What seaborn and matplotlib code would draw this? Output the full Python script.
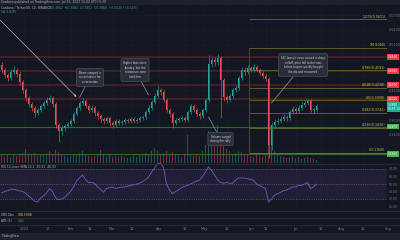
import numpy as np
import pandas as pd
import matplotlib
matplotlib.use("Agg")
import matplotlib.pyplot as plt
import matplotlib.transforms as mtransforms
from matplotlib.patches import Rectangle
from matplotlib.lines import Line2D
import seaborn as sns

# ---------------- data ----------------
start_date = "2022-12-17"          # first 2-day candle
first_open = 0.470
closes = [0.460, 0.450, 0.444, 0.456, 0.460, 0.452, 0.436, 0.420, 0.404, 0.392,
          0.384, 0.374, 0.380, 0.388, 0.394, 0.400, 0.404, 0.392, 0.350, 0.338,
          0.344, 0.348, 0.352, 0.358, 0.372, 0.384, 0.394, 0.398, 0.388, 0.380,
          0.384, 0.374, 0.368, 0.362, 0.358, 0.364, 0.354, 0.350, 0.358, 0.354,
          0.356, 0.360, 0.358, 0.362, 0.358, 0.360, 0.364, 0.366, 0.376, 0.384,
          0.396, 0.408, 0.420, 0.416, 0.400, 0.380, 0.372, 0.354, 0.360, 0.362,
          0.364, 0.360, 0.376, 0.388, 0.380, 0.372, 0.368, 0.380, 0.400, 0.472,
          0.480, 0.476, 0.484, 0.440, 0.406, 0.400, 0.408, 0.420, 0.424, 0.444,
          0.460, 0.456, 0.464, 0.460, 0.466, 0.460, 0.454, 0.448, 0.442, 0.310,
          0.350, 0.356, 0.358, 0.362, 0.366, 0.364, 0.376, 0.382, 0.378, 0.384,
          0.390, 0.394, 0.398, 0.380, 0.380, 0.388]
highs = [0.476, 0.464, 0.454, 0.462, 0.468, 0.464, 0.456, 0.440, 0.424, 0.408,
         0.396, 0.388, 0.384, 0.392, 0.398, 0.406, 0.410, 0.408, 0.396, 0.354,
         0.350, 0.352, 0.356, 0.362, 0.376, 0.388, 0.398, 0.404, 0.402, 0.392,
         0.390, 0.388, 0.378, 0.372, 0.366, 0.368, 0.368, 0.358, 0.362, 0.362,
         0.360, 0.364, 0.364, 0.366, 0.366, 0.364, 0.368, 0.370, 0.380, 0.390,
         0.400, 0.414, 0.428, 0.424, 0.420, 0.404, 0.384, 0.376, 0.364, 0.366,
         0.368, 0.368, 0.380, 0.392, 0.392, 0.384, 0.376, 0.384, 0.404, 0.490,
         0.486, 0.486, 0.492, 0.488, 0.444, 0.410, 0.412, 0.424, 0.430, 0.448,
         0.466, 0.466, 0.470, 0.468, 0.472, 0.470, 0.464, 0.458, 0.452, 0.446,
         0.356, 0.362, 0.364, 0.368, 0.372, 0.370, 0.380, 0.388, 0.386, 0.390,
         0.396, 0.398, 0.402, 0.402, 0.386, 0.392]
lows = [0.454, 0.444, 0.438, 0.440, 0.452, 0.446, 0.430, 0.414, 0.398, 0.386,
        0.378, 0.366, 0.370, 0.376, 0.384, 0.390, 0.396, 0.386, 0.344, 0.316,
        0.330, 0.338, 0.344, 0.348, 0.354, 0.368, 0.380, 0.390, 0.384, 0.374,
        0.376, 0.368, 0.362, 0.356, 0.352, 0.354, 0.348, 0.344, 0.346, 0.350,
        0.350, 0.352, 0.354, 0.354, 0.354, 0.354, 0.356, 0.360, 0.362, 0.372,
        0.380, 0.392, 0.404, 0.410, 0.396, 0.376, 0.366, 0.344, 0.350, 0.356,
        0.358, 0.356, 0.356, 0.372, 0.376, 0.368, 0.362, 0.364, 0.376, 0.396,
        0.466, 0.468, 0.470, 0.364, 0.398, 0.394, 0.396, 0.404, 0.416, 0.420,
        0.440, 0.450, 0.452, 0.456, 0.456, 0.456, 0.450, 0.444, 0.438, 0.284,
        0.300, 0.344, 0.352, 0.354, 0.358, 0.358, 0.360, 0.372, 0.374, 0.374,
        0.380, 0.386, 0.390, 0.376, 0.374, 0.376]
volumes = [8, 7, 9, 6, 8, 7, 9, 10, 14, 9, 8, 10, 7, 8, 9, 10, 12, 8,
           13, 11, 8, 7, 6, 7, 9, 8, 10, 12, 8, 7, 6, 7, 8, 13, 9, 7,
           8, 6, 7, 6, 7, 6, 5, 6, 7, 6, 8, 9, 10, 9, 12, 15, 13, 9,
           10, 12, 9, 11, 8, 7, 6, 8, 28, 9, 7, 8, 7, 12, 18, 32, 26, 22,
           38, 24, 18, 14, 12, 9, 10, 12, 11, 8, 9, 7, 6, 8, 7, 6, 9, 44,
           38, 12, 8, 7, 6, 5, 6, 7, 5, 6, 4, 5, 6, 5, 4, 3]
rsi = [38, 40, 41, 43, 43, 42, 41, 40, 38, 34,
       31, 27, 26, 31, 34, 38, 44, 40, 32, 29,
       30, 32, 36, 40, 46, 54, 58, 62, 56, 52,
       52, 51, 46, 43, 39, 44, 45, 46, 44, 45,
       46, 46, 47, 48, 49, 50, 51, 53, 56, 59,
       66, 71, 77, 78, 72, 50, 42, 37, 40, 42,
       45, 47, 48, 50, 52, 54, 55, 60, 66, 73,
       68, 62, 56, 52, 51, 52, 51, 51, 55, 58,
       58, 58, 57, 56, 55, 50, 48, 46, 44, 26,
       30, 35, 37, 39, 41, 42, 44, 46, 46, 48,
       48, 50, 52, 44, 46, 50]

red_levels = [0.486, 0.458, 0.430, 0.402]
green_levels = [0.347, 0.292]
current_price = 0.3880
fib_low, fib_high = 0.294, 0.504
fib_ratios = [1.272, 1, 0.786, 0.618, 0.5, 0.382, 0.236, 0]
fib_start = "2023-05-31"
price_ticks = [0.30, 0.33, 0.36, 0.39, 0.42, 0.45, 0.48, 0.51, 0.54, 0.57]
rsi_ticks = [20, 30, 40, 50, 60, 70]
time_tick_dates = ["2023-01-01", "2023-01-17", "2023-02-01", "2023-02-14", "2023-03-01",
                   "2023-03-14", "2023-04-01", "2023-04-18", "2023-05-01", "2023-05-16",
                   "2023-06-01", "2023-06-11", "2023-07-01", "2023-07-18", "2023-08-01",
                   "2023-08-15", "2023-09-01"]
time_tick_labels = ["2023", "17", "Feb", "14", "Mar", "14", "Apr", "18", "May", "16",
                    "Jun", "11", "Jul", "18", "Aug", "15", "Sep"]
notes = ["Bears stepped in\nat resistance for\na correction",
         "Higher lows since\nJanuary, but the\nresistance zone\nheld firm",
         "SEC lawsuit news caused a sharp\nselloff; price fell to the lows\nbefore buyers quickly bought\nthe dip and recovered",
         "Volume surged\nduring the rally"]

# ---------------- frame ----------------
df = pd.DataFrame({
    "date": pd.date_range(start_date, periods=len(closes), freq="2D"),
    "open": [first_open] + closes[:-1],
    "high": highs, "low": lows, "close": closes,
    "volume": volumes, "rsi": rsi,
})
df["up"] = df["close"] >= df["open"]

BG = "#131722"
GRID = "#1a1e2b"
AXT = "#787b86"
UP, DN = "#26a69a", "#ef5350"

sns.set_theme(style="dark", rc={"axes.facecolor": BG, "figure.facecolor": BG,
                                "savefig.facecolor": BG, "axes.edgecolor": BG,
                                "text.color": "#d1d4dc"})
plt.rcParams["font.family"] = ["DejaVu Sans"]

W, H = 400, 240
fig = plt.figure(figsize=(4, 2.4), dpi=100)


def rect(x0, y0, x1, y1):
    return [x0 / W, 1 - y1 / H, (x1 - x0) / W, (y1 - y0) / H]


d0 = pd.Timestamp("2022-12-16")
d1 = d0 + pd.Timedelta(days=258)
tdates = pd.to_datetime(time_tick_dates)

ax_vol = fig.add_axes(rect(0, 5, 387, 163))
ax = fig.add_axes(rect(0, 5, 387, 163), sharex=ax_vol)
ax.patch.set_alpha(0)
ax_rsi = fig.add_axes(rect(0, 163, 387, 211), sharex=ax_vol)

for a in (ax_vol, ax, ax_rsi):
    a.set_xlim(d0, d1)
    for s in a.spines.values():
        s.set_visible(False)
    a.tick_params(axis="x", bottom=False, labelbottom=False)
    a.grid(False)
    a.set_xlabel("")
    a.set_ylabel("")

# grid lines
for a in (ax_vol, ax_rsi):
    for d in tdates:
        a.axvline(d, color=GRID, lw=0.5, zorder=0)
for p in price_ticks:
    ax_vol.axhline((p - 0.274) / (0.59 - 0.274) * 158, color=GRID, lw=0.5, zorder=0)

# volume
ax_vol.set_ylim(0, 158)
ax_vol.bar(df["date"], df["volume"], width=1.3,
           color=[UP if u else DN for u in df["up"]], alpha=0.45, lw=0)
ax_vol.set_yticks([])

# price
ax.set_ylim(0.274, 0.59)
for lvl in red_levels:
    ax.axhline(lvl, color="#4c1d28", lw=1.3, zorder=1)
for lvl in green_levels:
    ax.axhline(lvl, color="#2f6a2c", lw=0.8, zorder=1)

fs = pd.Timestamp(fib_start)
fib_prices = [fib_low + r * (fib_high - fib_low) for r in fib_ratios]
ax.vlines(fs, fib_low, fib_high, color="#55521f", lw=0.6, zorder=1)
blend = mtransforms.blended_transform_factory(ax.transAxes, ax.transData)
for r, p in zip(fib_ratios, fib_prices):
    col = "#66762a" if r == 0 else "#615e25"
    ax.hlines(p, fs, d1, color=col, lw=0.7, zorder=1)
    ax.text(0.996, p + 0.0015, f"{r:g}({p:.4f})", transform=blend, ha="right",
            va="bottom", fontsize=2.3, color="#cfc93a", zorder=5)

colors = [UP if u else DN for u in df["up"]]
ax.vlines(df["date"], df["low"], df["high"], colors=colors, lw=0.45, zorder=3)
body_lo = df[["open", "close"]].min(axis=1)
body_h = (df["close"] - df["open"]).abs().clip(lower=0.0012)
ax.bar(df["date"], body_h, bottom=body_lo, width=1.3, color=colors, lw=0, zorder=4)

# axis labels hidden where a price tag sits (as the platform does)
tag_levels = red_levels + green_levels + [current_price]
shown_ticks = [p for p in price_ticks if min(abs(p - t) for t in tag_levels) > 0.0085]
ax.yaxis.tick_right()
ax.set_yticks(shown_ticks)
ax.set_yticklabels([f"{p:.4f}" for p in shown_ticks])
ax.tick_params(axis="y", labelsize=2.4, length=0, pad=1.5, colors=AXT)

tag = dict(fontsize=2.1, color="white", ha="left", va="center", transform=blend,
           clip_on=False, zorder=6)
for lvl in red_levels:
    ax.text(1.003, lvl, f"{lvl:.4f}", bbox=dict(boxstyle="square,pad=0.3", fc="#f23645", ec="none"), **tag)
for lvl in green_levels:
    ax.text(1.003, lvl, f"{lvl:.4f}", bbox=dict(boxstyle="square,pad=0.3", fc="#4caf50", ec="none"), **tag)
ax.text(1.003, current_price - 0.002, f"{current_price:.4f}\n08:57:12",
        bbox=dict(boxstyle="square,pad=0.3", fc="#22ab94", ec="none"), linespacing=1.0, **tag)

# callouts
note_style = dict(fontsize=1.9, color="#d1d4dc", ha="center", va="center", linespacing=1.25,
                  bbox=dict(boxstyle="round,pad=0.9,rounding_size=0.6", fc="#2a2e39", ec="#55585f", lw=0.4),
                  arrowprops=dict(arrowstyle="-", color="#9598a1", lw=0.5, shrinkA=0, shrinkB=0),
                  zorder=7, annotation_clip=False)
ax.annotate(notes[0], xy=(df["date"][26], 0.405), xytext=(d0 + pd.Timedelta(days=60), 0.445), **note_style)
ax.annotate(notes[1], xy=(df["date"][49], 0.410), xytext=(d0 + pd.Timedelta(days=90), 0.460), **note_style)
ax.annotate(notes[2], xy=(df["date"][90], 0.394), xytext=(d0 + pd.Timedelta(days=202), 0.470), **note_style)
ax.annotate(notes[3], xy=(df["date"][69], 0.366), xytext=(d0 + pd.Timedelta(days=147), 0.322), **note_style)
ax.annotate("", xy=(df["date"][25], 0.406), xytext=(d0, 0.56),
            arrowprops=dict(arrowstyle="-|>", color="#b2b5be", lw=0.5, mutation_scale=3,
                            shrinkA=0, shrinkB=0), zorder=7)

# RSI
ax_rsi.set_ylim(14, 78)
ax_rsi.axhspan(30, 70, color="#7e57c2", alpha=0.13, lw=0, zorder=0)
for lv in (30, 50, 70):
    ax_rsi.axhline(lv, color=AXT, lw=0.4, ls=(0, (2, 2)), zorder=1)
sns.lineplot(data=df, x="date", y="rsi", ax=ax_rsi, color="#7e57c2", lw=0.6, zorder=3)
ax_rsi.set_xlim(d0, d1)
ax_rsi.set_xlabel("")
ax_rsi.set_ylabel("")
ax_rsi.yaxis.tick_right()
ax_rsi.set_yticks(rsi_ticks)
ax_rsi.set_yticklabels([f"{t:.2f}" for t in rsi_ticks])
ax_rsi.tick_params(axis="y", labelsize=2.2, length=0, pad=1.5, colors=AXT)
ax_rsi.tick_params(axis="x", bottom=False, labelbottom=False)

# time axis strip
ax_time = fig.add_axes(rect(0, 225, 400, 233))
ax_time.set_xlim(d0, d0 + pd.Timedelta(days=400 / 1.5))
ax_time.set_ylim(0, 1)
ax_time.axis("off")
for d, lab in zip(tdates, time_tick_labels):
    ax_time.text(d, 0.45, lab, ha="center", va="center", fontsize=2.6, color=AXT)

# bars, separators, header texts
fig.add_artist(Rectangle((0, 1 - 5 / H), 1, 5 / H, transform=fig.transFigure,
                         fc="#1e222d", ec="none", zorder=0))
fig.add_artist(Rectangle((0, 0), 1, 7 / H, transform=fig.transFigure,
                         fc="#1e222d", ec="none", zorder=0))
for yy in (163.5, 211, 218, 225):
    fig.add_artist(Line2D([0, 1], [1 - yy / H] * 2, transform=fig.transFigure,
                          color="#2a2e39", lw=0.5))
fig.text(0.003, 1 - 2.5 / H, "Cardano published on TradingView.com, Jul 15, 2023 15:02 UTC+5:30",
         fontsize=2.2, color="#b2b5be", va="center")
fig.text(0.003, 1 - 8 / H, "Cardano / TetherUS, 1D, BINANCE", fontsize=2.2, color="#b2b5be", va="center")
fig.text(0.125, 1 - 8 / H, "O0.3862  H0.3904  L0.3801  C0.3880  +0.0020 (+0.52%)",
         fontsize=2.2, color="#26a69a", va="center")
fig.text(0.003, 1 - 12 / H, "Vol 5.82M", fontsize=2.2, color="#26a69a", va="center")
fig.text(0.003, 1 - 167.5 / H, "RSI 14 close SMA 14 2  50.21  48.93", fontsize=2.2, color="#b2b5be", va="center")
fig.text(0.003, 1 - 214.5 / H, "OBV Dbs", fontsize=2.2, color="#b2b5be", va="center")
fig.text(0.045, 1 - 214.5 / H, "108.5998", fontsize=2.2, color="#d4cf3c", va="center")
fig.text(0.003, 1 - 221.5 / H, "ATR (5)", fontsize=2.2, color="#b2b5be", va="center")
fig.text(0.045, 1 - 221.5 / H, "5.82", fontsize=2.2, color="#4caf50", va="center")
fig.text(0.003, 1 - 236.5 / H, "TradingView", fontsize=2.2, color="#b2b5be", va="center")

fig.savefig("out.png", dpi=100, facecolor=BG)
